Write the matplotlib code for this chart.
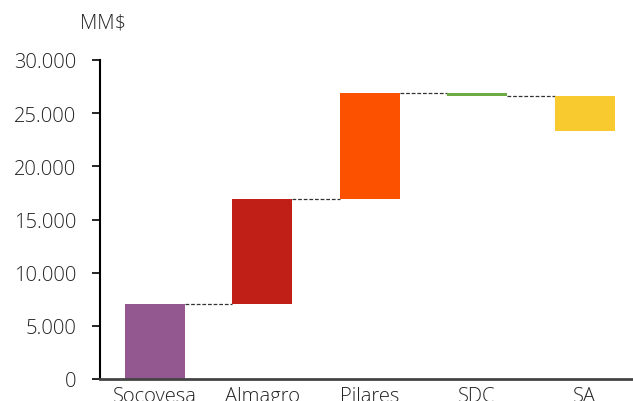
import numpy as np
import matplotlib.pyplot as plt
from matplotlib.ticker import FuncFormatter

# Data (MM$)
categories = ['Socovesa', 'Almagro', 'Pilares', 'SDC', 'SA']
changes = [7050, 9850, 10000, -300, -3300]
colors = ['#93588F', '#C01F17', '#FC5200', '#6EAB43', '#F9CA2F']
yticks = [0, 5000, 10000, 15000, 20000, 25000, 30000]

plt.rcParams['font.family'] = ['Open Sans', 'DejaVu Sans']
plt.rcParams['font.weight'] = 'light'

totals = np.cumsum(changes)
starts = totals - np.array(changes)
x = np.arange(len(categories))
width = 0.56

fig = plt.figure(figsize=(6.33, 4.02), dpi=100)
ax = fig.add_axes([100 / 633, 22 / 402, 533 / 633, 319 / 402])

ax.bar(x, changes, bottom=starts, width=width, color=colors, zorder=2)

# connector lines between bars
for i in range(len(categories) - 1):
    ax.plot([x[i] + width / 2, x[i + 1] - width / 2], [totals[i], totals[i]],
            linestyle=(0, (3, 1.5)), color='#333333', linewidth=0.9, zorder=1)

ax.set_xlim(-0.51, 4.45)
ax.set_ylim(0, 30000)
ax.set_yticks(yticks)
ax.yaxis.set_major_formatter(FuncFormatter(lambda v, p: f'{int(v):,}'.replace(',', '.')))
ax.set_xticks(x)
ax.set_xticklabels(categories)

for s in ['top', 'right']:
    ax.spines[s].set_visible(False)
ax.spines['left'].set_color('black')
ax.spines['left'].set_linewidth(1.5)
ax.spines['bottom'].set_color('#444444')
ax.spines['bottom'].set_linewidth(2)

ax.tick_params(axis='y', direction='out', length=6, width=1.2, labelsize=14.5,
               labelcolor='#222222', pad=11)
ax.tick_params(axis='x', length=0, labelsize=14.5, labelcolor='#222222', pad=5)

fig.text(80 / 633, 1 - 24 / 402, 'MM$', fontsize=14.5, color='#222222',
         ha='left', va='center')

fig.savefig('out.png', dpi=100)
